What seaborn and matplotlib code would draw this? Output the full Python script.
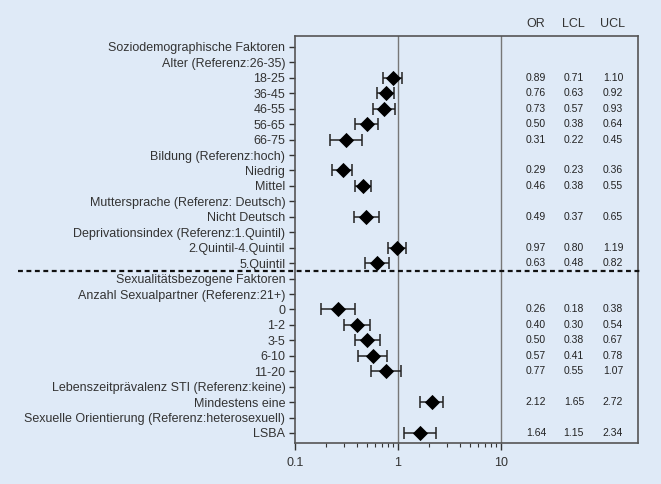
import numpy as np
import pandas as pd
import matplotlib
matplotlib.use("Agg")
import matplotlib.pyplot as plt
import matplotlib.transforms as mtransforms
import seaborn as sns

nan = np.nan

labels = ["Soziodemographische Faktoren", "Alter (Referenz:26-35)", "18-25", "36-45",
          "46-55", "56-65", "66-75", "Bildung (Referenz:hoch)", "Niedrig", "Mittel",
          "Muttersprache (Referenz: Deutsch)", "Nicht Deutsch",
          "Deprivationsindex (Referenz:1.Quintil)", "2.Quintil-4.Quintil", "5.Quintil",
          "Sexualitätsbezogene Faktoren", "Anzahl Sexualpartner (Referenz:21+)",
          "0", "1-2", "3-5", "6-10", "11-20",
          "Lebenszeitprävalenz STI (Referenz:keine)", "Mindestens eine",
          "Sexuelle Orientierung (Referenz:heterosexuell)", "LSBA"]
odds = [nan, nan, 0.89, 0.76, 0.73, 0.50, 0.31, nan, 0.29, 0.46, nan, 0.49, nan,
        0.97, 0.63, nan, nan, 0.26, 0.40, 0.50, 0.57, 0.77, nan, 2.12, nan, 1.64]
lcl = [nan, nan, 0.71, 0.63, 0.57, 0.38, 0.22, nan, 0.23, 0.38, nan, 0.37, nan,
       0.80, 0.48, nan, nan, 0.18, 0.30, 0.38, 0.41, 0.55, nan, 1.65, nan, 1.15]
ucl = [nan, nan, 1.10, 0.92, 0.93, 0.64, 0.45, nan, 0.36, 0.55, nan, 0.65, nan,
       1.19, 0.82, nan, nan, 0.38, 0.54, 0.67, 0.78, 1.07, nan, 2.72, nan, 2.34]
columns = ["OR", "LCL", "UCL"]
section_break = 14.5  # between "5.Quintil" and "Sexualitätsbezogene Faktoren"

df = pd.DataFrame({"label": labels, "OR": odds, "LCL": lcl, "UCL": ucl})
df["row"] = np.arange(len(df))
est = df.dropna()

bg = "#dfeaf7"
txt = "#333333"

sns.set_theme(style="ticks", rc={
    "figure.facecolor": bg, "axes.facecolor": bg, "savefig.facecolor": bg,
    "axes.edgecolor": "#555555", "axes.linewidth": 1.2,
    "xtick.color": "#333333", "ytick.color": "#333333",
    "text.color": txt, "axes.labelcolor": txt,
})
plt.rcParams["font.family"] = ["Liberation Sans", "DejaVu Sans"]

fig = plt.figure(figsize=(6.61, 4.84), dpi=100)
ax = fig.add_axes([295 / 661, 1 - 443 / 484, 343 / 661, 407 / 484])

ax.axvline(1, color="#777777", lw=1, zorder=1)
ax.axvline(10, color="#777777", lw=1, zorder=1)

ax.errorbar(est["OR"], est["row"],
            xerr=[est["OR"] - est["LCL"], est["UCL"] - est["OR"]],
            fmt="none", ecolor="#222222", elinewidth=1.1, capsize=4, capthick=1.1, zorder=2)
sns.scatterplot(data=est, x="OR", y="row", marker="D", s=60, color="black",
                edgecolor="black", linewidth=0, zorder=3, ax=ax, legend=False)

ax.set_xscale("log")
ax.set_xlim(0.1, 10 ** 2.33)
ax.set_xticks([0.1, 1, 10])
ax.set_xticklabels(["0.1", "1", "10"])
ax.set_xticks([m * d for d in (0.1, 1) for m in range(2, 10)], minor=True)
ax.set_ylim(len(labels) - 1 + 0.65, -0.71)
ax.set_yticks(df["row"])
ax.set_yticklabels(df["label"])
ax.set_xlabel("")
ax.set_ylabel("")
ax.tick_params(axis="y", length=4, width=1, labelsize=9, pad=3)
ax.tick_params(axis="x", which="major", length=5, width=1, labelsize=9, pad=5)
ax.tick_params(axis="x", which="minor", length=3, width=0.8)

trans = mtransforms.blended_transform_factory(ax.transAxes, ax.transData)
col_x = [0.703, 0.813, 0.927]
for cx, name in zip(col_x, columns):
    ax.text(cx, -1.49, name, transform=trans, ha="center", va="center", fontsize=9,
            color=txt, clip_on=False)
    for _, r in est.iterrows():
        ax.text(cx, r["row"], f"{r[name]:.2f}", transform=trans, ha="center",
                va="center", fontsize=7.5, color="#222222")

ax.axhline(section_break, xmin=(18 - 295) / 343, xmax=(641 - 295) / 343, clip_on=False,
           color="#111111", lw=1.6, ls=(0, (2.2, 1.6)), zorder=4)

fig.savefig("out.png", dpi=100)
